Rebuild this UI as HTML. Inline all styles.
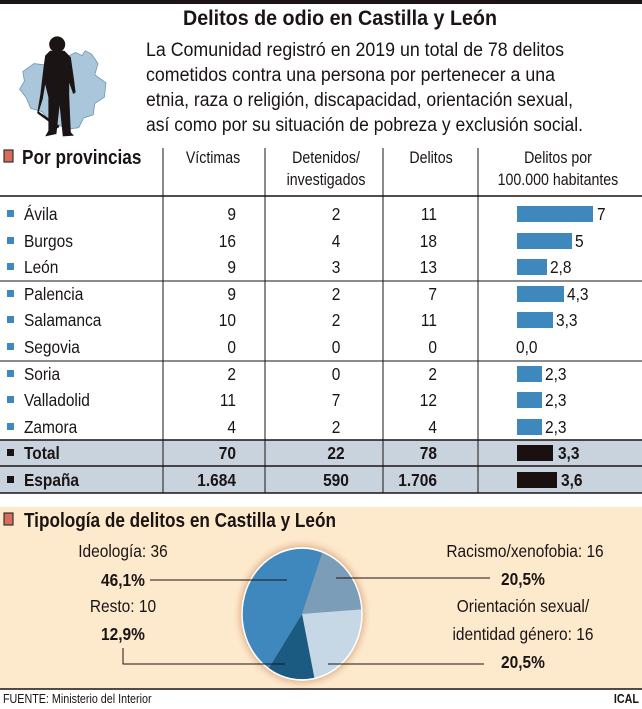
<!DOCTYPE html>
<html><head><meta charset="utf-8"><style>
html,body{margin:0;padding:0;background:#fff}
svg{display:block}
text{font-family:"Liberation Sans",sans-serif;fill:#1a1414}
.b{font-weight:bold}
</style></head><body>
<svg width="642" height="709" viewBox="0 0 642 709" xmlns="http://www.w3.org/2000/svg">
<rect x="0" y="0" width="642" height="709" fill="#fff"/>
<rect x="0" y="0" width="642" height="4" fill="#1a1414"/>
<text x="340" y="25" font-size="21" class="b" text-anchor="middle" textLength="314" lengthAdjust="spacingAndGlyphs">Delitos de odio en Castilla y León</text>
<g font-size="19">
<text x="146" y="56" textLength="418" lengthAdjust="spacingAndGlyphs">La Comunidad registró en 2019 un total de 78 delitos</text>
<text x="146" y="81" textLength="409" lengthAdjust="spacingAndGlyphs">cometidos contra una persona por pertenecer a una</text>
<text x="146" y="106" textLength="427" lengthAdjust="spacingAndGlyphs">etnia, raza o religión, discapacidad, orientación sexual,</text>
<text x="146" y="131" textLength="437" lengthAdjust="spacingAndGlyphs">así como por su situación de pobreza y exclusión social.</text>
</g>
<g transform="translate(2,6) scale(0.8)">
<path d="M26,82 L40,72 L56,74 L62,62 L80,64 L92,58 L100,62 L104,56 L112,60 L120,72 L116,86 L130,96 L128,114 L116,122 L114,136 L102,140 L96,152 L82,154 L70,148 L58,142 L50,132 L36,128 L30,114 L22,104 L28,94 Z" fill="#a9c6da" stroke="#6f97b3" stroke-width="1"/>
<path d="M60,56 L78,56 L86,64 L90,92 L92,108 L89,110 L84,96 L84,112 L86,158 L90,162 L76,163 L72,124 L68,160 L54,163 L58,156 L58,114 L54,98 L51,116 L46,132 L72,150 L70,153 L44,134 L48,110 L52,76 L54,62 Z" fill="#1a1414"/>
<circle cx="69" cy="48" r="10" fill="#1a1414"/>
</g>
<rect x="4" y="150" width="9" height="12" fill="#d96b5a" stroke="#333" stroke-width="1.2"/>
<rect x="0" y="440" width="642" height="53" fill="#c9d3dd"/>
<g stroke="#1a1414">
<line x1="0" y1="196" x2="642" y2="196" stroke-width="1.5"/>
<line x1="0" y1="281" x2="642" y2="281" stroke-width="1"/>
<line x1="0" y1="361" x2="642" y2="361" stroke-width="1"/>
<line x1="0" y1="440" x2="642" y2="440" stroke-width="1.5"/>
<line x1="0" y1="466" x2="642" y2="466" stroke-width="1.5"/>
<line x1="0" y1="493" x2="642" y2="493" stroke-width="1.5"/>
<line x1="163" y1="148" x2="163" y2="493" stroke-width="1"/>
<line x1="265" y1="148" x2="265" y2="493" stroke-width="1"/>
<line x1="383" y1="148" x2="383" y2="493" stroke-width="1"/>
<line x1="478" y1="148" x2="478" y2="493" stroke-width="1"/>
</g>
<g fill="#3f88bd">
<rect x="7" y="210" width="7" height="7"/><rect x="7" y="237" width="7" height="7"/><rect x="7" y="263" width="7" height="7"/>
<rect x="7" y="290" width="7" height="7"/><rect x="7" y="316" width="7" height="7"/><rect x="7" y="343" width="7" height="7"/>
<rect x="7" y="370" width="7" height="7"/><rect x="7" y="396" width="7" height="7"/><rect x="7" y="423" width="7" height="7"/>
</g>
<rect x="7" y="449" width="7" height="7" fill="#1a1414"/><rect x="7" y="476" width="7" height="7" fill="#1a1414"/>
<g fill="#3f88bd">
<rect x="517" y="206" width="76" height="16"/><rect x="517" y="233" width="55" height="16"/><rect x="517" y="259" width="30" height="16"/>
<rect x="517" y="286" width="47" height="16"/><rect x="517" y="312" width="36" height="16"/>
<rect x="517" y="366" width="25" height="16"/><rect x="517" y="392" width="25" height="16"/><rect x="517" y="419" width="25" height="16"/>
</g>
<rect x="517" y="445" width="36" height="16" fill="#1a1010"/><rect x="517" y="472" width="40" height="16" fill="#1a1010"/>

<rect x="0" y="507" width="642" height="182" fill="#fde9cc"/>
<rect x="4" y="513" width="9" height="12" fill="#d96b5a" stroke="#333" stroke-width="1.2"/>
<defs><radialGradient id="g" cx="0.5" cy="0.5" r="0.5"><stop offset="0.82" stop-color="#d39a70"/><stop offset="1" stop-color="#fde9cc" stop-opacity="0"/></radialGradient></defs>
<ellipse cx="302" cy="614" rx="70" ry="77" fill="url(#g)"/>
<g transform="translate(302,614) scale(1,1.1)">
<path d="M0,0 L20.5,-56.4 A60,60 0 0 1 59.9,-4.2 Z" fill="#7b9db8"/>
<path d="M0,0 L59.9,-4.2 A60,60 0 0 1 12.5,58.7 Z" fill="#c6d8e6"/>
<path d="M0,0 L12.5,58.7 A60,60 0 0 1 -33.6,49.7 Z" fill="#1b5b82"/>
<path d="M0,0 L-33.6,49.7 A60,60 0 0 1 20.5,-56.4 Z" fill="#3f88bd"/>
<ellipse cx="0" cy="0" rx="60" ry="60" fill="none" stroke="#fff" stroke-width="1.5"/>
</g>
<g stroke="#1a1414" stroke-width="1" fill="none">
<line x1="150" y1="580" x2="287" y2="580"/>
<line x1="336" y1="578" x2="490" y2="578"/>
<polyline points="123,648 123,664 285,664"/>
<line x1="328" y1="664" x2="484" y2="664"/>
</g>
<line x1="0" y1="689" x2="642" y2="689" stroke="#1a1414" stroke-width="1.5"/>

<g transform="scale(0.86,1)">
<text x="25.6" y="164" font-size="20" class="b">Por provincias</text>
<g font-size="16.5" text-anchor="middle">
<text x="247.7" y="163">Víctimas</text>
<text x="379.1" y="163">Detenidos/</text>
<text x="379.1" y="185">investigados</text>
<text x="501.2" y="163">Delitos</text>
<text x="648.8" y="163">Delitos por</text>
<text x="648.8" y="185">100.000 habitantes</text>
</g>
<g font-size="18">
<text x="27.9" y="220">Ávila</text><text x="27.9" y="247">Burgos</text><text x="27.9" y="273">León</text>
<text x="27.9" y="300">Palencia</text><text x="27.9" y="326">Salamanca</text><text x="27.9" y="353">Segovia</text>
<text x="27.9" y="380">Soria</text><text x="27.9" y="406">Valladolid</text><text x="27.9" y="433">Zamora</text>
<text x="27.9" y="459" class="b">Total</text><text x="27.9" y="486" class="b">España</text>
<g text-anchor="end">
<text x="274.4" y="220">9</text><text x="274.4" y="247">16</text><text x="274.4" y="273">9</text>
<text x="274.4" y="300">9</text><text x="274.4" y="326">10</text><text x="274.4" y="353">0</text>
<text x="274.4" y="380">2</text><text x="274.4" y="406">11</text><text x="274.4" y="433">4</text>
<text x="274.4" y="459" class="b">70</text><text x="274.4" y="486" class="b">1.684</text>
<text x="508.1" y="220">11</text><text x="508.1" y="247">18</text><text x="508.1" y="273">13</text>
<text x="508.1" y="300">7</text><text x="508.1" y="326">11</text><text x="508.1" y="353">0</text>
<text x="508.1" y="380">2</text><text x="508.1" y="406">12</text><text x="508.1" y="433">4</text>
<text x="508.1" y="459" class="b">78</text><text x="508.1" y="486" class="b">1.706</text>
</g>
<g text-anchor="middle">
<text x="390.7" y="220">2</text><text x="390.7" y="247">4</text><text x="390.7" y="273">3</text>
<text x="390.7" y="300">2</text><text x="390.7" y="326">2</text><text x="390.7" y="353">0</text>
<text x="390.7" y="380">0</text><text x="390.7" y="406">7</text><text x="390.7" y="433">2</text>
<text x="390.7" y="459" class="b">22</text><text x="390.7" y="486" class="b">590</text>
</g>
<text x="694.2" y="220">7</text><text x="668.6" y="247">5</text><text x="639.5" y="273">2,8</text>
<text x="659.3" y="300">4,3</text><text x="646.5" y="326">3,3</text><text x="600" y="353">0,0</text>
<text x="633.7" y="380">2,3</text><text x="633.7" y="406">2,3</text><text x="633.7" y="433">2,3</text>
<text x="648.8" y="459" class="b">3,3</text><text x="652.3" y="486" class="b">3,6</text>
</g>
<text x="27.9" y="527" font-size="20" class="b">Tipología de delitos en Castilla y León</text>
<g font-size="18" text-anchor="middle">
<text x="143" y="557">Ideología: 36</text>
<text x="143" y="586" class="b">46,1%</text>
<text x="610.5" y="557">Racismo/xenofobia: 16</text>
<text x="608.1" y="585" class="b">20,5%</text>
<text x="143" y="612">Resto: 10</text>
<text x="143" y="640" class="b">12,9%</text>
<text x="608.1" y="612">Orientación sexual/</text>
<text x="608.1" y="640">identidad género: 16</text>
<text x="608.1" y="668" class="b">20,5%</text>
</g>
<text x="3.5" y="703" font-size="12.5">FUENTE: Ministerio del Interior</text>
<text x="743" y="703" font-size="12.5" class="b" text-anchor="end">ICAL</text>
</g>
</svg>
</body></html>
